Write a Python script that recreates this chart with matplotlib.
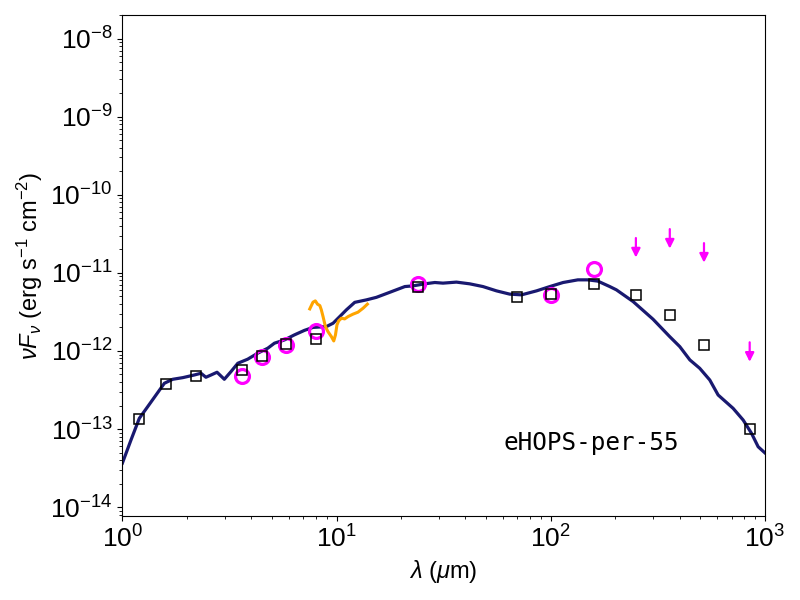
import numpy as np
import matplotlib
matplotlib.use("Agg")
import matplotlib.pyplot as plt

plt.rcParams['font.family'] = ['Liberation Sans', 'DejaVu Sans']
plt.rcParams['mathtext.fontset'] = 'custom'
plt.rcParams['mathtext.rm'] = 'Liberation Sans'
plt.rcParams['mathtext.it'] = 'Liberation Sans:italic'
plt.rcParams['mathtext.bf'] = 'Liberation Sans:bold'

# model SED (log10 wavelength in um, log10 nuFnu in erg/s/cm2)
model_logwav = [0.000, 0.040, 0.079, 0.118, 0.157, 0.196, 0.235, 0.282, 0.336, 0.367,
                0.390, 0.414, 0.442, 0.476, 0.507, 0.539, 0.585, 0.632, 0.679, 0.710,
                0.757, 0.803, 0.850, 0.890, 0.953, 0.984, 1.015, 1.046, 1.085, 1.140,
                1.186, 1.248, 1.319, 1.357, 1.412, 1.459, 1.497, 1.560, 1.622, 1.684,
                1.747, 1.809, 1.864, 1.934, 1.996, 2.058, 2.127, 2.173, 2.220, 2.276,
                2.307, 2.385, 2.478, 2.556, 2.603, 2.650, 2.696, 2.743, 2.782, 2.852,
                2.899, 2.938, 2.969, 3.000]
model_lognufnu = [-13.436, -13.141, -12.863, -12.714, -12.564, -12.414, -12.363, -12.342, -12.308, -12.286,
                  -12.337, -12.308, -12.273, -12.363, -12.265, -12.158, -12.106, -12.029, -11.965, -11.901,
                  -11.859, -11.795, -11.737, -11.699, -11.688, -11.645, -11.560, -11.474, -11.378, -11.346,
                  -11.314, -11.250, -11.176, -11.167, -11.141, -11.124, -11.132, -11.119, -11.141, -11.176,
                  -11.231, -11.273, -11.282, -11.231, -11.176, -11.124, -11.090, -11.090, -11.106, -11.176,
                  -11.218, -11.368, -11.594, -11.817, -11.945, -12.115, -12.222, -12.372, -12.564, -12.735,
                  -12.885, -13.055, -13.227, -13.304]

# IRS spectrum
irs_logwav = [0.875, 0.890, 0.901, 0.911, 0.922, 0.929, 0.937, 0.948, 0.960, 0.976,
              0.987, 0.995, 1.002, 1.010, 1.023, 1.038, 1.054, 1.077, 1.100, 1.124, 1.144]
irs_lognufnu = [-11.462, -11.376, -11.359, -11.401, -11.419, -11.474, -11.560, -11.688, -11.753, -11.817,
                -11.872, -11.795, -11.667, -11.615, -11.581, -11.590, -11.560, -11.529, -11.504, -11.453, -11.401]

# model photometry (squares)
sq_wav = [1.19, 1.6, 2.2, 3.6, 4.5, 5.8, 8.0, 24, 70, 100, 160, 250, 360, 520, 850]
sq_flux = [1.35e-13, 3.74e-13, 4.74e-13, 5.66e-13, 8.63e-13, 1.24e-12, 1.41e-12, 6.6e-12,
           4.97e-12, 5.43e-12, 7.16e-12, 5.18e-12, 2.87e-12, 1.18e-12, 9.9e-14]

# observed photometry (circles)
obs_wav = [3.6, 4.5, 5.8, 8.0, 24, 100, 160]
obs_flux = [4.82e-13, 8.46e-13, 1.2e-12, 1.79e-12, 7.2e-12, 5.13e-12, 1.11e-11]

# upper limits
lim_wav = [250, 360, 520, 850]
lim_flux = [2.79e-11, 3.63e-11, 2.40e-11, 1.29e-12]

fig, ax = plt.subplots(figsize=(8, 6), dpi=100)
fig.subplots_adjust(left=0.153, right=0.956, top=0.975, bottom=0.14)

ax.plot(10 ** np.array(model_logwav), 10 ** np.array(model_lognufnu),
        color='midnightblue', lw=2.3, zorder=2)
ax.plot(10 ** np.array(irs_logwav), 10 ** np.array(irs_lognufnu),
        color='orange', lw=2.2, zorder=3)
ax.plot(obs_wav, obs_flux, 'o', ms=10, mfc='none', mec='magenta', mew=2.3, zorder=4)
ax.plot(sq_wav, sq_flux, 's', ms=7.5, mfc='none', mec='black', mew=1.1, zorder=5)

for w, f in zip(lim_wav, lim_flux):
    ax.annotate('', xy=(w, f / 10 ** 0.25), xytext=(w, f),
                arrowprops=dict(arrowstyle='-|>', color='magenta', lw=1.6,
                                mutation_scale=13, shrinkA=0, shrinkB=0))

ax.set_xscale('log')
ax.set_yscale('log')
ax.set_xlim(1, 1000)
ax.set_ylim(7.7e-15, 2.0e-8)

ax.set_xlabel(r'$\lambda$ ($\mu$m)', fontsize=17)
ax.set_ylabel(r'$\nu F_\nu$ (erg s$^{-1}$ cm$^{-2}$)', fontsize=17)
ax.tick_params(axis='both', which='major', labelsize=19)

ax.text(0.594, 0.146, 'eHOPS-per-55', transform=ax.transAxes, fontsize=17.5,
        family='DejaVu Sans Mono', ha='left', va='center')

fig.savefig('out.png', dpi=100)
